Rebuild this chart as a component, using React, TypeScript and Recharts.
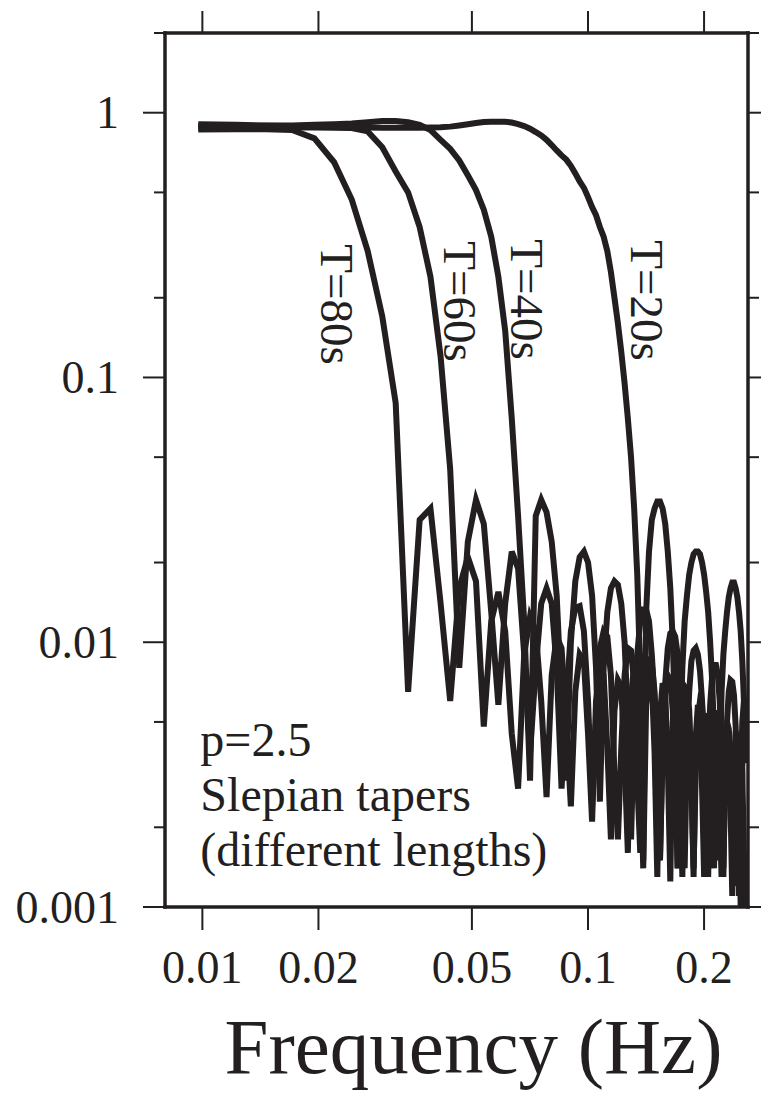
import React from "react";
import { LineChart, Line, XAxis, YAxis, ReferenceDot } from "recharts";

// frequency bins (Hz)
const freq = [
  0.00976, 0.0122, 0.01464, 0.01708, 0.01952, 0.02196, 0.0244, 0.02684, 0.02928, 0.03172,
  0.03416, 0.0366, 0.03904, 0.04148, 0.04392, 0.04636, 0.0488, 0.05124, 0.05368, 0.05612,
  0.05856, 0.061, 0.06344, 0.06588, 0.06832, 0.07076, 0.0732, 0.07564, 0.07808, 0.08052,
  0.08296, 0.0854, 0.08784, 0.09028, 0.09272, 0.09516, 0.0976, 0.10004, 0.10248, 0.10492,
  0.10736, 0.1098, 0.11224, 0.11468, 0.11712, 0.11956, 0.122, 0.12444, 0.12688, 0.12932,
  0.13176, 0.1342, 0.13664, 0.13908, 0.14152, 0.14396, 0.1464, 0.14884, 0.15128, 0.15372,
  0.15616, 0.1586, 0.16104, 0.16348, 0.16592, 0.16836, 0.1708, 0.17324, 0.17568, 0.17812,
  0.18056, 0.183, 0.18544, 0.18788, 0.19032, 0.19276, 0.1952, 0.19764, 0.20008, 0.20252,
  0.20496, 0.2074, 0.20984, 0.21228, 0.21472, 0.21716, 0.2196, 0.22204, 0.22448, 0.22692,
  0.22936, 0.2318, 0.23424, 0.23668, 0.23912, 0.24156, 0.244, 0.24644, 0.24888, 0.25132,
  0.25376, 0.2562,
];

const t80 = [
  0.865, 0.866, 0.866, 0.86, 0.8, 0.65, 0.47, 0.3, 0.17, 0.08,
  0.0065, 0.029, 0.032, 0.014, 0.006, 0.016, 0.021, 0.017, 0.0048, 0.012,
  0.0155, 0.011, 0.0045, 0.0028, 0.009, 0.0125, 0.011, 0.006, 0.0026, 0.0075,
  0.0105, 0.0095, 0.005, 0.0024, 0.0065, 0.009, 0.0085, 0.0045, 0.0021, 0.006,
  0.008, 0.0075, 0.004, 0.0018, 0.0055, 0.0072, 0.0068, 0.0036, 0.0016, 0.0062,
  0.0082, 0.0078, 0.0042, 0.0014, 0.0058, 0.0075, 0.0071, 0.0038, 0.0013, 0.0053,
  0.007, 0.0065, 0.0035, 0.00125, 0.005, 0.0065, 0.006, 0.0033, 0.0013, 0.0046,
  0.0061, 0.0056, 0.003, 0.0013, 0.0044, 0.0058, 0.0053, 0.0028, 0.0013, 0.0041,
  0.0054, 0.005, 0.0026, 0.0014, 0.0039, 0.0051, 0.0048, 0.0025, 0.0013, 0.0038,
  0.0049, 0.0045, 0.0024, 0.0011, 0.0035, 0.0046, 0.0043, 0.0023, 0.001, 0.0034,
  0.0044, 0.0041,
];

const t60 = [
  0.875, 0.876, 0.878, 0.88, 0.88, 0.878, 0.875, 0.85, 0.74, 0.6,
  0.5, 0.37, 0.24, 0.12, 0.045, 0.008, 0.024, 0.0345, 0.028, 0.013,
  0.0058, 0.014, 0.022, 0.019, 0.009, 0.0038, 0.008, 0.014, 0.016, 0.014,
  0.008, 0.0028, 0.006, 0.011, 0.0135, 0.0137, 0.011, 0.006, 0.0024, 0.005,
  0.0095, 0.011, 0.0105, 0.0075, 0.0032, 0.0018, 0.004, 0.0075, 0.0095, 0.0093,
  0.007, 0.003, 0.0016, 0.0035, 0.0065, 0.0085, 0.0083, 0.0065, 0.0035, 0.0015,
  0.004, 0.0065, 0.0075, 0.0072, 0.0055, 0.003, 0.0014, 0.0035, 0.0058, 0.0068,
  0.0066, 0.0052, 0.003, 0.0014, 0.0032, 0.0052, 0.006, 0.0058, 0.0045, 0.0025,
  0.0013, 0.003, 0.0048, 0.0055, 0.0052, 0.004, 0.0022, 0.0013, 0.0028, 0.0044,
  0.005, 0.0047, 0.0035, 0.0018, 0.0012, 0.0026, 0.004, 0.0045, 0.0042, 0.0032,
  0.0016, 0.001,
];

const t40 = [
  0.89, 0.89, 0.892, 0.895, 0.9, 0.905, 0.91, 0.92, 0.93, 0.93,
  0.92, 0.9, 0.86, 0.79, 0.73, 0.66, 0.58, 0.51, 0.43, 0.34,
  0.24, 0.15, 0.07, 0.03, 0.012, 0.003, 0.03, 0.0345, 0.031, 0.024,
  0.015, 0.006, 0.003, 0.01, 0.017, 0.021, 0.022, 0.02, 0.015, 0.008,
  0.0025, 0.008, 0.013, 0.016, 0.017, 0.0165, 0.014, 0.01, 0.005, 0.0018,
  0.005, 0.009, 0.012, 0.0133, 0.0133, 0.012, 0.009, 0.006, 0.0025, 0.0015,
  0.004, 0.007, 0.0095, 0.0108, 0.011, 0.0105, 0.009, 0.0065, 0.0035, 0.0014,
  0.004, 0.0065, 0.0085, 0.0093, 0.0095, 0.009, 0.0078, 0.006, 0.0035, 0.0015,
  0.0035, 0.0058, 0.0074, 0.0082, 0.0082, 0.0075, 0.006, 0.0038, 0.0014, 0.003,
  0.005, 0.0065, 0.0072, 0.0071, 0.0063, 0.0048, 0.0028, 0.0011, 0.003, 0.005,
  0.006, 0.0062,
];

const t20 = [
  0.905, 0.9, 0.895, 0.89, 0.886, 0.883, 0.881, 0.879, 0.878, 0.878,
  0.878, 0.878, 0.879, 0.881, 0.886, 0.895, 0.905, 0.915, 0.922, 0.925,
  0.925, 0.924, 0.918, 0.905, 0.89, 0.87, 0.845, 0.82, 0.79, 0.755,
  0.72, 0.69, 0.665, 0.63, 0.59, 0.55, 0.52, 0.48, 0.44, 0.41,
  0.37, 0.34, 0.3, 0.25, 0.2, 0.16, 0.125, 0.095, 0.07, 0.05,
  0.032, 0.018, 0.0075, 0.0015, 0.013, 0.022, 0.029, 0.032, 0.034, 0.034,
  0.032, 0.028, 0.022, 0.016, 0.01, 0.005, 0.0014, 0.004, 0.008, 0.012,
  0.015, 0.018, 0.02, 0.0215, 0.022, 0.022, 0.0215, 0.02, 0.018, 0.0155,
  0.013, 0.01, 0.0072, 0.0045, 0.0022, 0.0015, 0.003, 0.0065, 0.009, 0.011,
  0.013, 0.0148, 0.016, 0.0168, 0.0168, 0.016, 0.0148, 0.013, 0.011, 0.0085,
  0.006, 0.0035,
];

const xTicks = [0.01, 0.02, 0.05, 0.1, 0.2];
const xTickLabels = ["0.01", "0.02", "0.05", "0.1", "0.2"];
const yTicks = [0.001, 0.002, 0.005, 0.01, 0.02, 0.05, 0.1, 0.2, 0.5, 1, 2];
const yMajor = [0.001, 0.01, 0.1, 1];
const yTickLabels = ["0.001", "0.01", "0.1", "1"];

const curveLabels = [
  { text: "T=80s", f: 0.02237, v: 0.1886 },
  { text: "T=60s", f: 0.0466, v: 0.1935 },
  { text: "T=40s", f: 0.0695, v: 0.1969 },
  { text: "T=20s", f: 0.1421, v: 0.1952 },
];
const noteLines = ["p=2.5", "Slepian tapers", "(different lengths)"];

const rows = freq.map((f, i) => ({ f, t80: t80[i], t60: t60[i], t40: t40[i], t20: t20[i] }));

const INK = "#231f20";
const FONT = "'Liberation Serif', 'Times New Roman', serif";
const axisLine = { stroke: INK, strokeWidth: 3.5, strokeLinecap: "square" as const };

function LeftTick({ x, y, payload }: any) {
  const i = yMajor.indexOf(payload.value);
  const len = i >= 0 ? 22 : 11;
  return (
    <g>
      <line x1={x} x2={x - len} y1={y} y2={y} stroke={INK} strokeWidth={2} />
      {i >= 0 && (
        <text x={x - 46} y={y} dy="0.34em" textAnchor="end" fontSize={46} fontFamily={FONT} fill={INK}>
          {yTickLabels[i]}
        </text>
      )}
    </g>
  );
}

function RightTick({ x, y, payload }: any) {
  const len = yMajor.includes(payload.value) ? 22 : 11;
  return <line x1={x} x2={x + len} y1={y} y2={y} stroke={INK} strokeWidth={2} />;
}

function BottomTick({ x, y, payload }: any) {
  const i = xTicks.indexOf(payload.value);
  return (
    <g>
      <line x1={x} x2={x} y1={y} y2={y + 23} stroke={INK} strokeWidth={2} />
      <text x={x} y={y + 76} textAnchor="middle" fontSize={46} fontFamily={FONT} fill={INK}>
        {xTickLabels[i]}
      </text>
    </g>
  );
}

function TopTick({ x, y }: any) {
  return <line x1={x} x2={x} y1={y} y2={y - 22} stroke={INK} strokeWidth={2} />;
}

export default function App() {
  return (
    <div style={{ width: 761, height: 1087 }}>
      <LineChart width={761} height={1087} data={rows} margin={{ top: 0, right: 0, bottom: 18, left: 17 }}>
        <XAxis
          dataKey="f"
          type="number"
          scale="log"
          domain={[0.008, 0.26]}
          allowDataOverflow
          ticks={xTicks}
          interval={0}
          height={170}
          tickSize={0}
          tickMargin={0}
          tickLine={false}
          axisLine={axisLine}
          tick={(p: any) => <BottomTick {...p} />}
          label={{
            value: "Frequency (Hz)",
            position: "insideBottom",
            offset: 4,
            dx: 17,
            fontSize: 79,
            fontFamily: FONT,
            fill: INK,
          }}
        />
        <XAxis
          xAxisId="top"
          dataKey="f"
          orientation="top"
          type="number"
          scale="log"
          domain={[0.008, 0.26]}
          allowDataOverflow
          ticks={xTicks}
          interval={0}
          height={25}
          tickSize={0}
          tickMargin={0}
          tickLine={false}
          axisLine={axisLine}
          tick={(p: any) => <TopTick {...p} />}
        />
        <YAxis
          type="number"
          scale="log"
          domain={[0.001, 2]}
          allowDataOverflow
          ticks={yTicks}
          interval={0}
          width={140}
          tickSize={0}
          tickMargin={0}
          tickLine={false}
          axisLine={axisLine}
          tick={(p: any) => <LeftTick {...p} />}
        />
        <YAxis
          yAxisId="right"
          orientation="right"
          type="number"
          scale="log"
          domain={[0.001, 2]}
          allowDataOverflow
          ticks={yTicks}
          interval={0}
          width={21}
          tickSize={0}
          tickMargin={0}
          tickLine={false}
          axisLine={axisLine}
          tick={(p: any) => <RightTick {...p} />}
        />
        {["t80", "t60", "t40", "t20"].map((k) => (
          <Line
            key={k}
            type="linear"
            dataKey={k}
            stroke={INK}
            strokeWidth={6}
            dot={false}
            activeDot={false}
            isAnimationActive={false}
          />
        ))}
        {curveLabels.map((c) => (
          <ReferenceDot
            key={c.text}
            x={c.f}
            y={c.v}
            r={0}
            shape={(p: any) => (
              <text
                x={p.cx}
                y={p.cy}
                dy="0.34em"
                textAnchor="middle"
                transform={`rotate(90 ${p.cx} ${p.cy})`}
                fontSize={47}
                fontFamily={FONT}
                fill={INK}
              >
                {c.text}
              </text>
            )}
          />
        ))}
        <ReferenceDot
          x={0.00988}
          y={0.00371}
          r={0}
          shape={(p: any) => (
            <text x={p.cx} y={p.cy} fontSize={48} fontFamily={FONT} fill={INK}>
              {noteLines.map((t, i) => (
                <tspan key={t} x={p.cx} dy={i === 0 ? 0 : 55}>
                  {t}
                </tspan>
              ))}
            </text>
          )}
        />
      </LineChart>
    </div>
  );
}
